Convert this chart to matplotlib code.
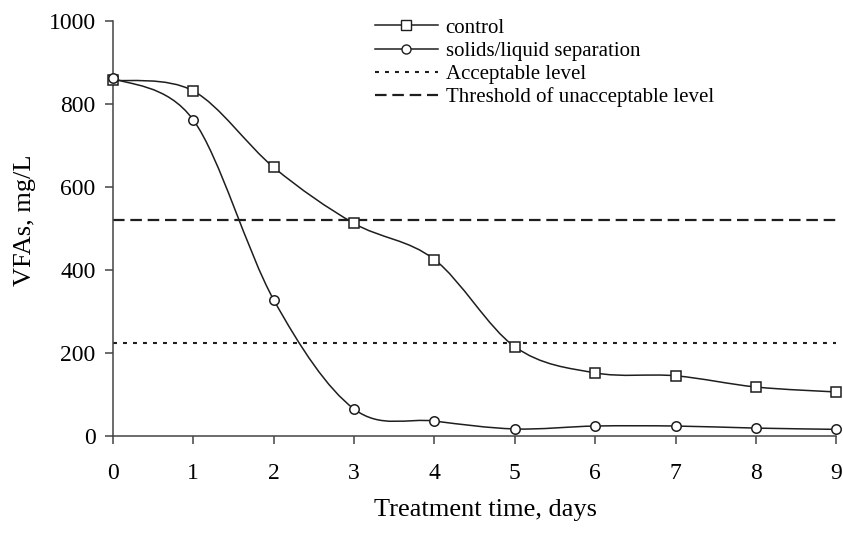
import matplotlib.pyplot as plt
from matplotlib.path import Path
from matplotlib.patches import PathPatch
from matplotlib.lines import Line2D

days = [0, 1, 2, 3, 4, 5, 6, 7, 8, 9]
control = [857, 831, 647, 512, 425, 215, 152, 145, 118, 106]
separation = [862, 761, 328, 65, 36, 17, 24, 24, 19, 16]
acceptable = 225
unacceptable = 520

plt.rcParams['font.family'] = ['Liberation Serif', 'DejaVu Serif']

INK = '#1e1e1e'
DOTS = (1.9, 2.9)
DASHES = (5.2, 2.6)


def smooth_path(x, y):
    # Excel-style smoothed line: cubic bezier through every point
    pts = list(zip(x, y))
    n = len(pts)
    verts = [pts[0]]
    codes = [Path.MOVETO]
    for i in range(n - 1):
        p0 = pts[max(i - 1, 0)]
        p1 = pts[i]
        p2 = pts[i + 1]
        p3 = pts[min(i + 2, n - 1)]
        c1 = (p1[0] + (p2[0] - p0[0]) / 6, p1[1] + (p2[1] - p0[1]) / 6)
        c2 = (p2[0] - (p3[0] - p1[0]) / 6, p2[1] - (p3[1] - p1[1]) / 6)
        verts += [c1, c2, p2]
        codes += [Path.CURVE4] * 3
    return Path(verts, codes)


fig = plt.figure(figsize=(8.43, 5.33), dpi=100)
ax = fig.add_axes([0.134, 0.182, 0.858, 0.779])

ax.plot([0, 9], [unacceptable, unacceptable], color=INK, lw=1.6, dashes=DASHES)
ax.plot([0, 9], [acceptable, acceptable], color=INK, lw=1.5, dashes=DOTS)

for vals, mk in [(control, 's'), (separation, 'o')]:
    ax.add_patch(PathPatch(smooth_path(days, vals), fill=False,
                           edgecolor=INK, lw=1.1, zorder=3))
    ax.plot(days, vals, linestyle='none', marker=mk, ms=6.8, mfc='white',
            mec=INK, mew=1.1, zorder=4, clip_on=False)

ax.set_xlim(0, 9)
ax.set_ylim(0, 1000)
ax.set_xticks(days)
ax.set_yticks([0, 200, 400, 600, 800, 1000])
ax.spines['top'].set_visible(False)
ax.spines['right'].set_visible(False)
for s in ['left', 'bottom']:
    ax.spines[s].set_color('#444444')
    ax.spines[s].set_linewidth(1.1)
ax.tick_params(direction='out', length=5.5, width=1.1, color='#444444',
               labelsize=17)
ax.tick_params(axis='x', pad=14)
ax.tick_params(axis='y', pad=7)
ax.set_xlabel('Treatment time, days', fontsize=19, labelpad=11, x=0.515)
ax.set_ylabel('VFAs, mg/L', fontsize=19, labelpad=9, y=0.52)

handles = [
    Line2D([], [], color=INK, lw=1.1, marker='s', ms=6.5, mfc='white', mec=INK),
    Line2D([], [], color=INK, lw=1.1, marker='o', ms=6.5, mfc='white', mec=INK),
    Line2D([], [], color=INK, lw=1.5, dashes=DOTS),
    Line2D([], [], color=INK, lw=1.6, dashes=DASHES),
]
labels = ['control', 'solids/liquid separation', 'Acceptable level',
          'Threshold of unacceptable level']
fig.legend(handles, labels, loc='upper left', bbox_to_anchor=(0.445, 0.966),
           frameon=False, fontsize=15, handlelength=3.0, handletextpad=0.38,
           labelspacing=0.17, borderpad=0, borderaxespad=0)

fig.savefig('out.png', dpi=100)
